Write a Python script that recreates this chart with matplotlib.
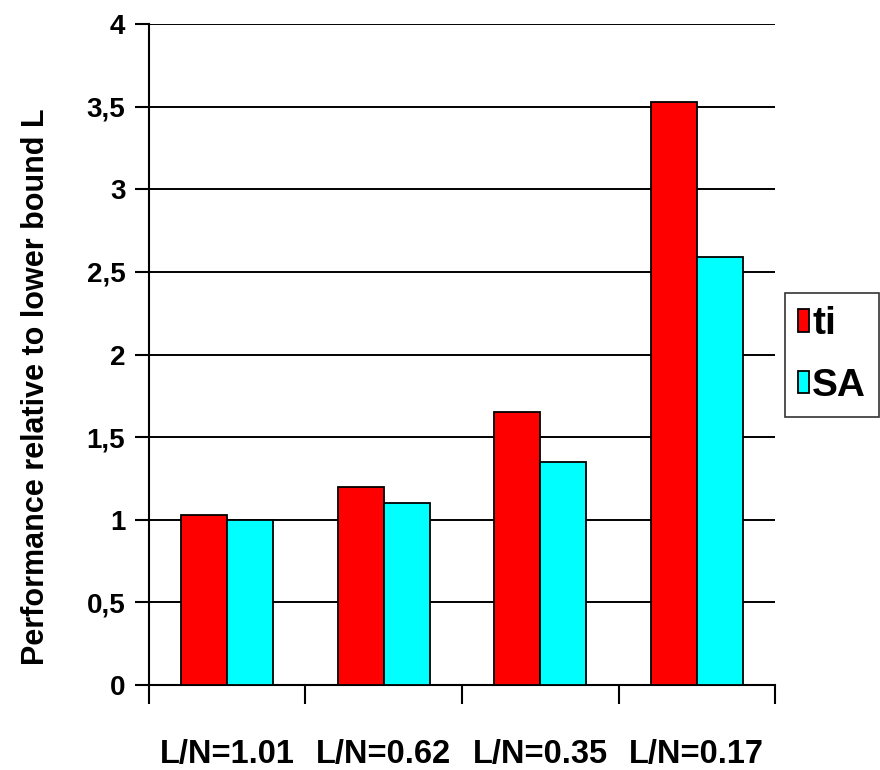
import matplotlib
matplotlib.use("Agg")
import matplotlib.pyplot as plt
import numpy as np

# chart data
categories = ["L/N=1.01", "L/N=0.62", "L/N=0.35", "L/N=0.17"]
ti_values = [1.03, 1.20, 1.65, 3.53]
sa_values = [1.00, 1.10, 1.35, 2.59]
y_ticks = [0, 0.5, 1, 1.5, 2, 2.5, 3, 3.5, 4]
y_tick_labels = ["0", "0,5", "1", "1,5", "2", "2,5", "3", "3,5", "4"]

plt.rcParams["font.family"] = ["Liberation Sans", "DejaVu Sans"]
plt.rcParams["font.weight"] = "bold"

fig = plt.figure(figsize=(8.8, 7.7), dpi=100)
ax = fig.add_axes([0.1693, 0.1104, 0.7114, 0.8584])

x = np.arange(len(categories))
w = 0.295
ax.bar(x - w / 2, ti_values, w, color="#ff0000", edgecolor="black",
       linewidth=1.3, label="ti", zorder=3)
ax.bar(x + w / 2, sa_values, w, color="#00ffff", edgecolor="black",
       linewidth=1.3, label="SA", zorder=3)

ax.set_xlim(-0.5, len(categories) - 0.5)
ax.set_ylim(0, 4)
ax.set_yticks(y_ticks)
ax.set_yticklabels(y_tick_labels, fontsize=20, fontweight="bold")
ax.yaxis.grid(True, color="black", linewidth=1.4, zorder=0)
ax.set_axisbelow(True)

# group ticks sit between the categories, labels sit at the centres
ax.set_xticks(np.arange(len(categories) + 1) - 0.5)
ax.set_xticklabels([])
ax.set_xticks(x, minor=True)
ax.set_xticklabels(categories, minor=True, fontsize=23.5, fontweight="bold")
ax.tick_params(axis="x", which="major", length=14, width=1.5, direction="out")
ax.tick_params(axis="x", which="minor", length=0, pad=39)
ax.tick_params(axis="y", length=10, width=1.5, direction="out", pad=7)

for side in ["top", "right"]:
    ax.spines[side].set_visible(False)
for side in ["left", "bottom"]:
    ax.spines[side].set_linewidth(1.5)

ax.set_ylabel("Performance relative to lower bound L", fontsize=22,
              fontweight="bold")
ax.yaxis.set_label_coords(-0.156, 0.452)

leg = fig.legend(loc="center left", bbox_to_anchor=(0.892, 0.539),
                 borderaxespad=0, fontsize=28, frameon=True, fancybox=False,
                 handlelength=0.28, handleheight=0.5, handletextpad=0.08,
                 labelspacing=0.65, borderpad=0.34)
leg.get_frame().set_edgecolor("black")
leg.get_frame().set_linewidth(1.2)
for t in leg.get_texts():
    t.set_fontweight("bold")

fig.savefig("out.png", dpi=100)
